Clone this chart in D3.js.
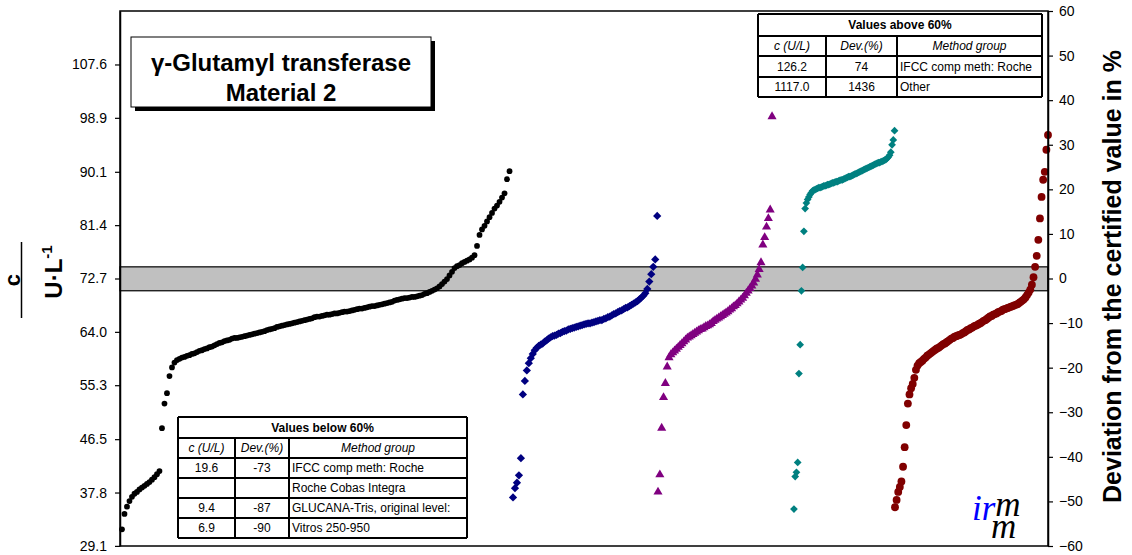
<!DOCTYPE html>
<html><head><meta charset="utf-8">
<script src="https://cdn.jsdelivr.net/npm/d3@7"></script>
<style>
body{margin:0;background:#fff;}
svg{display:block;font-family:"Liberation Sans",Arial,sans-serif;}
</style></head><body>
<svg id="chart" width="1132" height="555"></svg>
<script>
// Certified value and its uncertainty band (U/L)
const certified = 72.7;
const bandLow = 70.7, bandHigh = 74.6;

// Axis ticks
const leftTicks = [29.1, 37.8, 46.5, 55.3, 64.0, 72.7, 81.4, 90.1, 98.9, 107.6];
const rightTicks = [-60, -50, -40, -30, -20, -10, 0, 10, 20, 30, 40, 50, 60];

// Method groups: ranked laboratory results (U/L)
const seriesColors = ["#000000", "#000080", "#800080", "#008080", "#800000"];
const seriesSymbols = ["circle", "diamond", "triangle", "diamond", "circle"];
const seriesSizes = [26, 34, 36, 30, 48];
const rankStart = [1.7, 338.8, 463.8, 581.0, 668.1];
const rankEnd = [335.8, 463.1, 562.1, 667.7, 800];

const group1 = [31.8,34.3,35.5,36.4,37.1,37.6,37.9,38.3,38.6,38.9,
39.2,39.5,39.9,40.3,40.8,41.3,48.3,52.3,54.0,56.8,
58.2,59.0,59.4,59.6,59.8,59.9,60.1,60.2,60.4,60.5,
60.7,60.9,61.0,61.2,61.3,61.5,61.6,61.8,62.0,62.2,
62.3,62.5,62.6,62.7,62.9,63.0,63.0,63.1,63.2,63.3,
63.4,63.5,63.6,63.7,63.8,63.9,64.0,64.1,64.3,64.4,
64.5,64.6,64.8,64.9,65.0,65.1,65.2,65.3,65.4,65.5,
65.6,65.7,65.8,65.9,66.0,66.1,66.2,66.4,66.5,66.5,
66.6,66.7,66.8,66.8,66.9,67.0,67.0,67.1,67.2,67.3,
67.3,67.4,67.5,67.6,67.7,67.8,67.8,67.9,68.0,68.1,
68.2,68.2,68.3,68.4,68.5,68.6,68.7,68.8,68.9,69.1,
69.2,69.3,69.4,69.5,69.5,69.6,69.7,69.7,69.8,69.9,
70.0,70.2,70.3,70.5,70.7,70.9,71.1,71.4,71.8,72.2,
72.6,73.2,73.8,74.4,74.7,74.9,75.2,75.4,75.6,75.8,
76.1,76.5,78.0,79.8,80.7,81.3,82.0,82.7,83.4,84.1,
84.6,85.2,85.9,86.6,88.9,90.2];

const group2 = [37.0,38.5,39.4,40.6,43.4,53.8,56.0,57.7,58.9,59.7,
60.4,61.0,61.4,61.7,61.9,62.1,62.4,62.6,62.9,63.1,
63.3,63.4,63.5,63.7,63.8,64.0,64.1,64.2,64.4,64.5,
64.6,64.7,64.8,64.9,65.0,65.1,65.2,65.3,65.4,65.4,
65.5,65.6,65.7,65.8,65.9,65.9,66.1,66.2,66.4,66.5,
66.7,66.9,67.0,67.2,67.4,67.5,67.7,67.9,68.0,68.2,
68.4,68.6,68.8,69.0,69.3,69.6,69.9,70.3,71.0,72.2,
73.4,74.6,75.8,82.9];

const group3 = [37.9,40.7,48.3,53.3,55.6,58.3,59.8,60.3,60.6,60.9,
61.2,61.5,61.8,62.1,62.4,62.7,63.0,63.2,63.4,63.6,
63.8,64.0,64.2,64.4,64.5,64.7,64.9,65.0,65.2,65.4,
65.7,65.9,66.1,66.3,66.5,66.7,66.9,67.1,67.3,67.6,
67.8,68.1,68.3,68.6,68.9,69.2,69.5,69.9,70.3,70.7,
71.1,71.5,72.0,72.6,73.3,74.2,75.3,78.2,79.4,81.1,
82.5,83.9,99.1];

const group4 = [35.1,40.4,41.1,42.7,57.2,61.9,70.7,74.5,80.4,84.1,
85.0,85.6,86.0,86.4,86.7,87.0,87.1,87.2,87.3,87.4,
87.5,87.5,87.6,87.7,87.8,87.8,87.9,88.0,88.0,88.1,
88.2,88.3,88.3,88.4,88.5,88.5,88.6,88.7,88.8,88.8,
88.9,89.0,89.1,89.2,89.3,89.3,89.4,89.5,89.6,89.7,
89.8,89.9,90.0,90.1,90.2,90.3,90.4,90.5,90.6,90.7,
90.8,90.9,91.0,91.1,91.2,91.3,91.4,91.5,91.6,91.6,
91.7,91.8,91.9,92.0,92.1,92.3,92.5,92.8,93.3,94.5,
95.3,96.8];

const group5 = [35.4,36.6,37.9,38.7,39.6,42.0,45.2,48.8,52.3,53.8,
54.8,55.5,56.5,57.8,58.5,58.9,59.1,59.3,59.6,59.8,
60.1,60.3,60.5,60.7,60.9,61.1,61.3,61.4,61.6,61.8,
62.0,62.1,62.3,62.5,62.7,62.9,63.0,63.2,63.3,63.4,
63.5,63.6,63.8,63.9,64.1,64.3,64.4,64.6,64.7,64.9,
65.0,65.1,65.3,65.4,65.6,65.8,65.9,66.1,66.3,66.5,
66.6,66.8,66.9,67.0,67.2,67.3,67.4,67.6,67.7,67.8,
67.9,68.0,68.1,68.2,68.3,68.4,68.5,68.7,68.9,69.1,
69.3,69.6,70.0,70.4,70.9,71.7,72.9,74.6,76.4,79.0,
82.5,86.0,88.8,90.1,93.7,96.1];

const seriesValues = [group1, group2, group3, group4, group5];

// Out-of-range results listed in the tables
const tableHeaders = ["c (U/L)", "Dev.(%)", "Method group"];
const aboveTitle = "Values above 60%";
const aboveRows = [["126.2", "74", "IFCC comp meth: Roche"], ["1117.0", "1436", "Other"]];
const belowTitle = "Values below 60%";
const belowRows = [["19.6", "-73", "IFCC comp meth: Roche"], ["", "", "Roche Cobas Integra"],
  ["9.4", "-87", "GLUCANA-Tris, original level:"], ["6.9", "-90", "Vitros 250-950"]];

const titleLines = ["\u03B3-Glutamyl transferase", "Material 2"];

// ---------------------------------------------------------------
const svg = d3.select("#chart");
const plot = {left: 120, right: 1048, top: 11, bottom: 546};
const pctMin = -60, pctMax = 60;

const x = d3.scaleLinear().domain([0, 800]).range([plot.left, plot.right]);
const yPct = d3.scaleLinear().domain([pctMin, pctMax]).range([plot.bottom, plot.top]);
const yVal = d3.scaleLinear()
  .domain([certified * (1 + pctMin / 100), certified * (1 + pctMax / 100)])
  .range([plot.bottom, plot.top]);

// uncertainty band
svg.append("rect")
  .attr("x", plot.left).attr("width", plot.right - plot.left)
  .attr("y", yVal(bandHigh)).attr("height", yVal(bandLow) - yVal(bandHigh))
  .attr("fill", "#c0c0c0").attr("stroke", "#000").attr("stroke-width", 1.2);

// symbols
const squareDiamond = {
  draw(ctx, size) {
    const r = Math.sqrt(size / 2);
    ctx.moveTo(0, -r); ctx.lineTo(r, 0); ctx.lineTo(0, r); ctx.lineTo(-r, 0); ctx.closePath();
  }
};
const symbolTypes = {circle: d3.symbolCircle, diamond: squareDiamond, triangle: d3.symbolTriangle};

seriesValues.forEach((vals, s) => {
  const step = (rankEnd[s] - rankStart[s]) / (vals.length - 1);
  const sym = d3.symbol().type(symbolTypes[seriesSymbols[s]]).size(seriesSizes[s]);
  svg.append("g").selectAll("path").data(vals).join("path")
    .attr("transform", (d, i) => `translate(${x(rankStart[s] + i * step)},${yVal(d)})`)
    .attr("d", sym)
    .attr("fill", seriesColors[s]);
});

// frame
svg.append("rect")
  .attr("x", plot.left).attr("y", plot.top)
  .attr("width", plot.right - plot.left).attr("height", plot.bottom - plot.top)
  .attr("fill", "none").attr("stroke", "#000").attr("stroke-width", 1.5);

// axes
const leftAxis = svg.append("g").attr("transform", `translate(${plot.left},0)`)
  .call(d3.axisLeft(yVal).tickValues(leftTicks).tickFormat(d3.format(".1f"))
    .tickSize(5).tickSizeOuter(0).tickPadding(8));
const rightAxis = svg.append("g").attr("transform", `translate(${plot.right},0)`)
  .call(d3.axisRight(yPct).tickValues(rightTicks).tickFormat(d3.format("d"))
    .tickSize(5).tickSizeOuter(0).tickPadding(6));
[leftAxis, rightAxis].forEach(a => {
  a.select(".domain").attr("stroke", "#000").attr("stroke-width", 1.5);
  a.selectAll(".tick line").attr("stroke", "#000").attr("stroke-width", 1.2);
  a.selectAll(".tick text").attr("font-size", 14).attr("fill", "#000")
    .attr("font-family", "'Liberation Sans', Arial, sans-serif");
});

// left axis title: c / (U·L⁻¹)
const ly = 280;
svg.append("text").attr("transform", `translate(20,${ly}) rotate(-90)`)
  .attr("text-anchor", "middle").attr("font-weight", "bold").attr("font-size", 22).text("c");
svg.append("line").attr("x1", 21.5).attr("x2", 21.5).attr("y1", ly - 38).attr("y2", ly + 38)
  .attr("stroke", "#000").attr("stroke-width", 1.5);
const ul = svg.append("text").attr("transform", `translate(62,${ly - 8}) rotate(-90)`)
  .attr("text-anchor", "middle").attr("font-weight", "bold").attr("font-size", 24);
ul.append("tspan").text("U\u00B7L");
ul.append("tspan").attr("dy", -10).attr("font-size", 15).text("-1");

// right axis title
svg.append("text").attr("transform", `translate(1121,${(plot.top + plot.bottom) / 2 - 2}) rotate(-90)`)
  .attr("text-anchor", "middle").attr("font-weight", "bold").attr("font-size", 25)
  .text("Deviation from the certified value in %");

// title box
const tb = {x: 131, y: 37, w: 300, h: 70};
svg.append("rect").attr("x", tb.x + 4).attr("y", tb.y + 4).attr("width", tb.w).attr("height", tb.h).attr("fill", "#000");
svg.append("rect").attr("x", tb.x).attr("y", tb.y).attr("width", tb.w).attr("height", tb.h)
  .attr("fill", "#fff").attr("stroke", "#000").attr("stroke-width", 1);
svg.append("g").selectAll("text").data(titleLines).join("text")
  .attr("x", tb.x + tb.w / 2).attr("y", (d, i) => 71 + i * 30)
  .attr("text-anchor", "middle").attr("font-weight", "bold").attr("font-size", 24)
  .text(d => d);

// tables
function drawTable(cols, rowsY, title, rows) {
  const g = svg.append("g").attr("font-size", 12);
  const x0 = cols[0], x1 = cols[cols.length - 1];
  g.append("rect").attr("x", x0).attr("y", rowsY[0]).attr("width", x1 - x0)
    .attr("height", rowsY[rowsY.length - 1] - rowsY[0]).attr("fill", "#fff");
  g.append("text").attr("x", (x0 + x1) / 2).attr("y", (rowsY[0] + rowsY[1]) / 2 + 4)
    .attr("text-anchor", "middle").attr("font-weight", "bold").text(title);
  tableHeaders.forEach((h, j) => {
    g.append("text").attr("x", (cols[j] + cols[j + 1]) / 2).attr("y", (rowsY[1] + rowsY[2]) / 2 + 4)
      .attr("text-anchor", "middle").attr("font-style", "italic").text(h);
  });
  rows.forEach((r, i) => {
    const yc = (rowsY[i + 2] + rowsY[i + 3]) / 2 + 4;
    r.forEach((c, j) => {
      g.append("text")
        .attr("x", j < 2 ? (cols[j] + cols[j + 1]) / 2 : cols[j] + 3)
        .attr("y", yc).attr("text-anchor", j < 2 ? "middle" : "start").text(c);
    });
  });
  rowsY.forEach(yy => {
    g.append("line").attr("x1", x0).attr("x2", x1).attr("y1", yy).attr("y2", yy)
      .attr("stroke", "#000").attr("stroke-width", 2);
  });
  cols.forEach((xx, j) => {
    const yTop = (j === 0 || j === cols.length - 1) ? rowsY[0] : rowsY[1];
    g.append("line").attr("x1", xx).attr("x2", xx).attr("y1", yTop).attr("y2", rowsY[rowsY.length - 1])
      .attr("stroke", "#000").attr("stroke-width", 2);
  });
}
drawTable([758, 826, 897, 1042], [14, 36, 56, 77, 97], aboveTitle, aboveRows);
drawTable([178, 235, 289, 467], [417, 438, 458, 478, 498, 518, 538], belowTitle, belowRows);

// logo: "irm" with a second "m" set beneath
const logo = svg.append("text").attr("font-family", "'Liberation Serif', 'Times New Roman', serif")
  .attr("font-style", "italic").attr("font-size", 35);
logo.append("tspan").attr("x", 972).attr("y", 520).attr("fill", "#0000ff").text("ir");
logo.append("tspan").attr("dy", -4).attr("fill", "#000").text("m");
logo.append("tspan").attr("x", 991).attr("y", 538).attr("fill", "#000").text("m");
</script>
</body></html>
